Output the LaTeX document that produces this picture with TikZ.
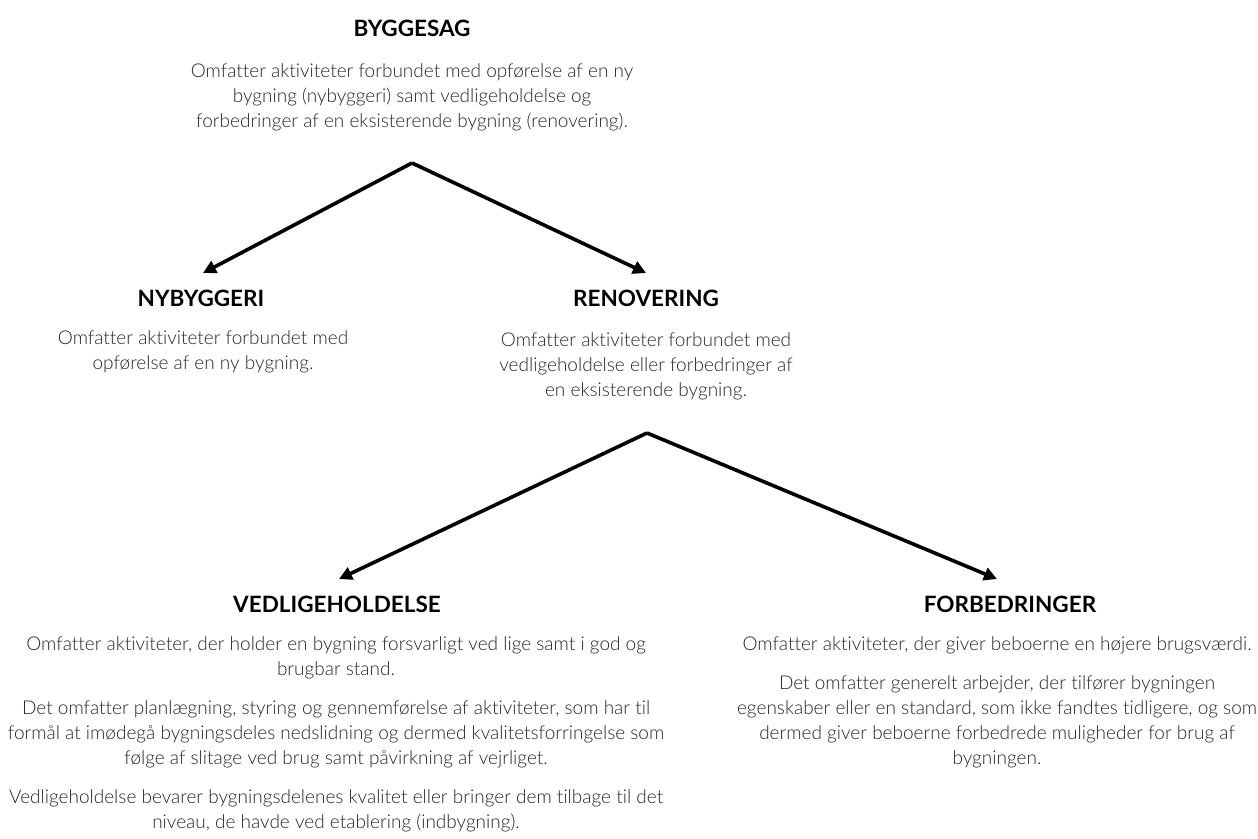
\documentclass[tikz,border=0pt]{standalone}
\usepackage{fontspec}
\setmainfont{Lato}
\newfontfamily\bodyfont{Lato Light}[Ligatures={NoCommon}]
\newfontfamily\headfont{Lato}[UprightFont={* Bold}]
\usetikzlibrary{arrows.meta}
\definecolor{bodygray}{HTML}{262626}
\begin{document}
\begin{tikzpicture}[x=1pt,y=-1pt,
  heading/.style={font={\headfont\fontsize{22.5}{26}\selectfont},text=black,inner sep=0pt},
  body/.style={font={\bodyfont\fontsize{19}{25}\selectfont},text=bodygray,align=center,inner sep=0pt},
  arr/.style={line width=3.6pt,-{Triangle[length=13pt,width=13pt]},line join=miter}]
\useasboundingbox (0,0) rectangle (1258,838);

% top level
\node[heading] (byg) at (412,28) {BYGGESAG};
\node[body] (bygtxt) at (412,97) {Omfatter aktiviteter forbundet med opførelse af en ny\\
bygning (nybyggeri) samt vedligeholdelse og\\
forbedringer af en eksisterende bygning (renovering).};

% second level
\node[heading] (nyb) at (201,298) {NYBYGGERI};
\node[body] (nybtxt) at (203,352) {Omfatter aktiviteter forbundet med\\
opførelse af en ny bygning.};

\node[heading] (ren) at (646,298) {RENOVERING};
\node[body] (rentxt) at (646,366) {Omfatter aktiviteter forbundet med\\
vedligeholdelse eller forbedringer af\\
en eksisterende bygning.};

% third level
\node[heading] (ved) at (337,604) {VEDLIGEHOLDELSE};
\node[body] (vedtxt) at (336,734) {Omfatter aktiviteter, der holder en bygning forsvarligt ved lige samt i god og\\
brugbar stand.\\[14pt]
Det omfatter planlægning, styring og gennemførelse af aktiviteter, som har til\\
formål at imødegå bygningsdeles nedslidning og dermed kvalitetsforringelse som\\
følge af slitage ved brug samt påvirkning af vejrliget.\\[14pt]
Vedligeholdelse bevarer bygningsdelenes kvalitet eller bringer dem tilbage til det\\
niveau, de havde ved etablering (indbygning).};

\node[heading] (forb) at (1010,604) {FORBEDRINGER};
\node[body] (forbtxt) at (997,702) {Omfatter aktiviteter, der giver beboerne en højere brugsværdi.\\[14pt]
Det omfatter generelt arbejder, der tilfører bygningen\\
egenskaber eller en standard, som ikke fandtes tidligere, og som\\
dermed giver beboerne forbedrede muligheder for brug af\\
bygningen.};

% branching points and arrow tips
\coordinate (fork1) at (412,163);
\coordinate (fork2) at (647,433);
\coordinate (tipnyb) at (203,273);
\coordinate (tipren) at (646,273);
\coordinate (tipved) at (339,579);
\coordinate (tipforb) at (997,579);

\draw[arr] (fork1) -- (tipnyb);
\draw[arr] (fork1) -- (tipren);
\draw[arr] (fork2) -- (tipved);
\draw[arr] (fork2) -- (tipforb);
\end{tikzpicture}
\end{document}
